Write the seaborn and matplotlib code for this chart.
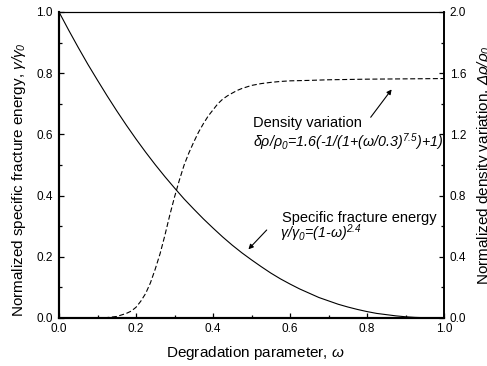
import matplotlib
matplotlib.use("Agg")
import matplotlib.pyplot as plt
import seaborn as sns
from matplotlib.ticker import MultipleLocator, FormatStrFormatter

# ---- data ----
omega = [0.0, 0.025, 0.05, 0.075, 0.1, 0.125, 0.15, 0.175, 0.2, 0.225,
         0.25, 0.275, 0.3, 0.325, 0.35, 0.375, 0.4, 0.425, 0.45, 0.475,
         0.5, 0.525, 0.55, 0.575, 0.6, 0.625, 0.65, 0.675, 0.7, 0.725,
         0.75, 0.775, 0.8, 0.825, 0.85, 0.875, 0.9, 0.925, 0.95, 0.975, 1.0]
energy = [1.0, 0.941, 0.884, 0.829, 0.777, 0.726, 0.677, 0.630, 0.585, 0.542,
          0.501, 0.462, 0.425, 0.389, 0.356, 0.324, 0.294, 0.265, 0.238, 0.213,
          0.190, 0.168, 0.147, 0.128, 0.111, 0.095, 0.081, 0.067, 0.056, 0.045,
          0.036, 0.028, 0.021, 0.015, 0.011, 0.007, 0.004, 0.002, 0.001, 0.0001, 0.0]

omega_d = [0.0, 0.05, 0.1, 0.125, 0.15, 0.175, 0.1875, 0.2, 0.2125, 0.225,
           0.2375, 0.25, 0.2625, 0.275, 0.2875, 0.3, 0.3125, 0.325, 0.3375, 0.35,
           0.3625, 0.375, 0.3875, 0.4, 0.4125, 0.425, 0.4375, 0.45, 0.4625, 0.475,
           0.5, 0.525, 0.55, 0.575, 0.6, 0.65, 0.7, 0.8, 0.9, 1.0]
density = [0.0, 0.0, 0.0005, 0.003, 0.01, 0.03, 0.045, 0.07, 0.11, 0.16,
           0.23, 0.32, 0.42, 0.54, 0.67, 0.79, 0.90, 1.00, 1.08, 1.15,
           1.215, 1.27, 1.32, 1.36, 1.40, 1.43, 1.452, 1.47, 1.487, 1.50,
           1.52, 1.532, 1.54, 1.546, 1.55, 1.553, 1.557, 1.561, 1.563, 1.565]

x_label = "Degradation parameter, $\\omega$"
y_label = "Normalized specific fracture energy, $\\gamma/\\gamma_0$"
y2_label = "Normalized density variation, $\\Delta\\rho/\\rho_0$"
density_title = "Density variation"
density_formula = "δρ/ρ$_0$=1.6(-1/(1+(ω/0.3)$^{7.5}$)+1)"
energy_title = "Specific fracture energy"
energy_formula = "γ/γ$_0$=(1-ω)$^{2.4}$"

# ---- style ----
sns.set_theme(style="ticks")
plt.rcParams["font.family"] = ["Liberation Sans", "DejaVu Sans"]
plt.rcParams["mathtext.fontset"] = "custom"
plt.rcParams["mathtext.rm"] = "Liberation Sans:italic"
plt.rcParams["mathtext.it"] = "Liberation Sans:italic"
plt.rcParams["mathtext.bf"] = "Liberation Sans:bold"
for k in ["text.color", "axes.labelcolor", "xtick.color", "ytick.color", "axes.edgecolor"]:
    plt.rcParams[k] = "black"

fig = plt.figure(figsize=(4.87, 3.66), dpi=100)
ax = fig.add_axes([59 / 487, 48 / 366, 385 / 487, 306 / 366])
ax2 = ax.twinx()

sns.lineplot(x=omega, y=energy, ax=ax, color="black", lw=0.8)
sns.lineplot(x=omega_d, y=density, ax=ax2, color="black", lw=0.8,
             linestyle=(0, (4.5, 2.3)))

ax.set_xlim(0, 1)
ax.set_ylim(0, 1)
ax2.set_ylim(0, 2)

ax.xaxis.set_major_locator(MultipleLocator(0.2))
ax.xaxis.set_minor_locator(MultipleLocator(0.1))
ax.yaxis.set_major_locator(MultipleLocator(0.2))
ax.yaxis.set_minor_locator(MultipleLocator(0.1))
ax2.yaxis.set_major_locator(MultipleLocator(0.4))
ax2.yaxis.set_minor_locator(MultipleLocator(0.2))
for a in (ax.xaxis, ax.yaxis, ax2.yaxis):
    a.set_major_formatter(FormatStrFormatter("%.1f"))

ax.tick_params(axis="both", which="both", direction="in", top=False, right=False,
               width=0.9, labelsize=8.5)
ax.tick_params(axis="both", which="major", length=3.4)
ax.tick_params(axis="both", which="minor", length=2.3)
ax.tick_params(axis="x", pad=3.5)
ax.tick_params(axis="y", pad=4.5)
ax2.tick_params(axis="y", which="both", direction="in", right=True, left=False,
                width=0.9, labelsize=8.5, pad=4)
ax2.tick_params(axis="y", which="major", length=3.4)
ax2.tick_params(axis="y", which="minor", length=2.3)

for a in (ax, ax2):
    a.spines["left"].set_linewidth(1.5)
    a.spines["bottom"].set_linewidth(1.5)
    a.spines["top"].set_linewidth(0.8)
    a.spines["right"].set_linewidth(1.2)
    for s in a.spines.values():
        s.set_visible(True)
        s.set_color("black")

ax.set_xlabel(x_label, fontsize=11)
ax.xaxis.set_label_coords(0.509, -0.085)
ax.set_ylabel(y_label, fontsize=11)
ax.yaxis.set_label_coords(-0.08, 0.451)
ax2.set_ylabel(y2_label, fontsize=11)
ax2.yaxis.set_label_coords(1.08, 0.5)

ax.text(0.504, 0.624, density_title, fontsize=10.5, va="baseline")
ax.text(0.504, 0.559, density_formula, fontsize=10.3, style="italic", va="baseline")
ax.text(0.579, 0.313, energy_title, fontsize=10.5, va="baseline")
ax.text(0.574, 0.262, energy_formula, fontsize=10.3, style="italic", va="baseline")

arrow = dict(arrowstyle="-|>", lw=0.8, color="black", mutation_scale=7,
             shrinkA=0, shrinkB=0)
ax.annotate("", xy=(0.864, 0.747), xytext=(0.8096, 0.656), arrowprops=arrow)
ax.annotate("", xy=(0.492, 0.2245), xytext=(0.5395, 0.2876), arrowprops=arrow)

fig.savefig("out.png", dpi=100)
